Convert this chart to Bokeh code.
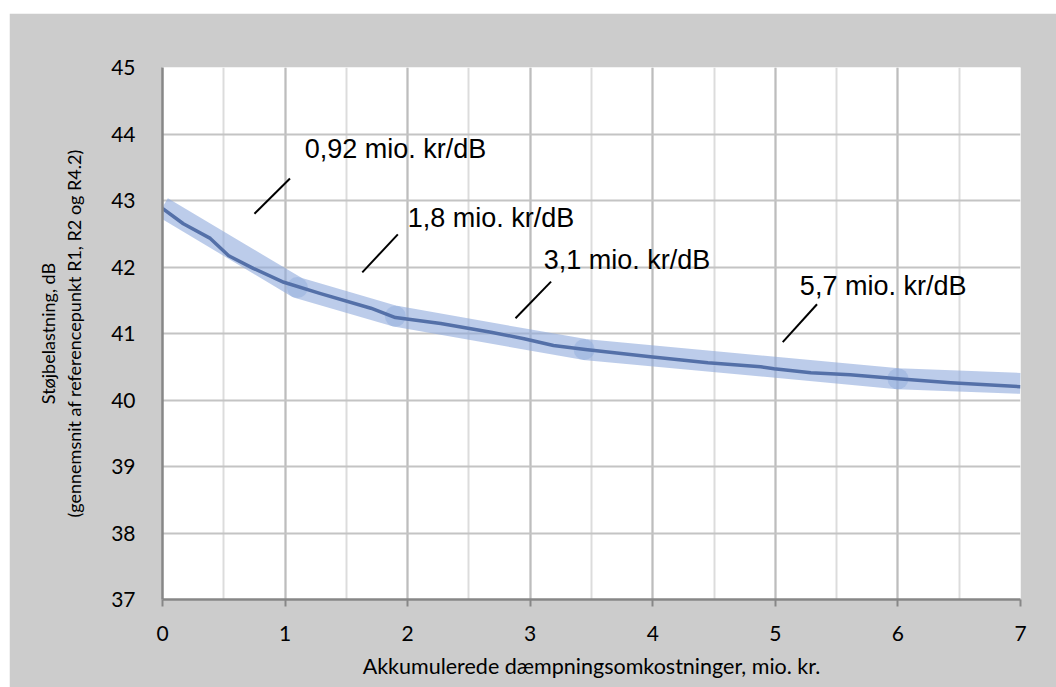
from bokeh.plotting import figure
from bokeh.models import Range1d, SingleIntervalTicker, Spacer
from bokeh.layouts import column, row
from bokeh.embed import file_html
from bokeh.resources import INLINE
from bokeh.core.properties import value

# --- data ---------------------------------------------------------------
curve_x = [0.0, 0.17, 0.39, 0.54, 0.74, 0.99, 1.29, 1.70, 1.90, 2.27, 2.68, 2.95,
           3.19, 3.45, 3.98, 4.45, 4.88, 4.99, 5.29, 5.61, 6.00, 6.43, 7.0]
curve_y = [42.88, 42.65, 42.43, 42.17, 41.98, 41.77, 41.60, 41.38, 41.24, 41.15, 41.02, 40.92,
           40.82, 40.76, 40.65, 40.56, 40.50, 40.47, 40.41, 40.38, 40.32, 40.26, 40.20]

band_x = [0.0, 1.10, 1.90, 3.44, 6.00, 7.0]
band_y = [42.90, 41.69, 41.26, 40.76, 40.32, 40.25]

knot_x = [1.10, 1.90, 3.44, 6.00]
knot_y = [41.69, 41.26, 40.76, 40.32]

ann_text = ["0,92 mio. kr/dB", "1,8 mio. kr/dB", "3,1 mio. kr/dB", "5,7 mio. kr/dB"]
ann_x = [1.16, 2.00, 3.11, 5.20]
ann_y = [43.78, 42.73, 42.10, 41.72]
lead_x0 = [0.75, 1.63, 2.88, 5.06]
lead_y0 = [42.80, 41.92, 41.23, 40.87]
lead_x1 = [1.04, 1.92, 3.17, 5.34]
lead_y1 = [43.33, 42.49, 41.78, 41.44]

x_label = "Akkumulerede dæmpningsomkostninger, mio. kr."
y_label = "Støjbelastning, dB\n(gennemsnit af referencepunkt R1, R2 og R4.2)"

# --- figure -------------------------------------------------------------
GRAY_BG = "#cccccc"
AX_FONT = "Lato"

p = figure(width=1047, height=674, output_backend="svg", toolbar_location=None,
           x_range=Range1d(0, 7), y_range=Range1d(37, 45),
           min_border_left=153, min_border_right=36, min_border_top=54, min_border_bottom=88)
p.background_fill_color = "white"
p.border_fill_color = GRAY_BG
p.outline_line_color = None

p.xaxis.ticker = SingleIntervalTicker(interval=1, num_minor_ticks=2)
p.yaxis.ticker = SingleIntervalTicker(interval=1, num_minor_ticks=0)

for ax in (p.xaxis[0], p.yaxis[0]):
    ax.axis_line_color = "#878787"
    ax.axis_line_width = 2.5
    ax.major_tick_line_color = "#878787"
    ax.major_tick_line_width = 2
    ax.minor_tick_in = 0
    ax.minor_tick_out = 0
    ax.major_tick_in = 0
    ax.major_label_text_font = AX_FONT
    ax.major_label_text_font_size = "21px"
    ax.major_label_text_color = "black"
    ax.axis_label_text_font = AX_FONT
    ax.axis_label_text_font_style = "normal"
    ax.axis_label_text_color = "black"

p.xaxis.major_tick_out = 7
p.xaxis.major_label_standoff = 19
p.xaxis.axis_label = x_label
p.xaxis.axis_label_text_font_size = "21.5px"
p.xaxis.axis_label_standoff = 9

p.yaxis.major_tick_out = 0
p.yaxis.major_tick_line_color = None
p.yaxis.major_label_standoff = 27
p.yaxis.axis_label = y_label
p.yaxis.axis_label_text_font_size = "18px"
p.yaxis.axis_label_standoff = 23

p.xgrid.grid_line_color = "#bdbdbd"
p.xgrid.grid_line_width = 2
p.xgrid.minor_grid_line_color = "#dcdcdc"
p.xgrid.minor_grid_line_width = 2
p.ygrid.grid_line_color = "#c4c4c4"
p.ygrid.grid_line_width = 2

# band + knots
p.line(band_x, band_y, line_width=21, line_color="#8faadc", line_alpha=0.6,
       line_cap="butt", line_join="round")
p.scatter(knot_x, knot_y, size=21, fill_color="#8faadc", fill_alpha=0.45, line_color=None)

# main curve
p.line(curve_x, curve_y, line_width=3.5, line_color="#5470a8", line_join="round")

# leader lines
p.segment(x0=lead_x0, y0=lead_y0, x1=lead_x1, y1=lead_y1, line_color="black", line_width=2)

# annotations
p.text(x=ann_x, y=ann_y, text=ann_text, text_font=value("Liberation Sans"),
       text_font_size="27px", text_baseline="middle", text_align="left", text_color="black")

layout = column(Spacer(height=13), row(Spacer(width=9), p))
open("out.html", "w").write(file_html(layout, INLINE))
